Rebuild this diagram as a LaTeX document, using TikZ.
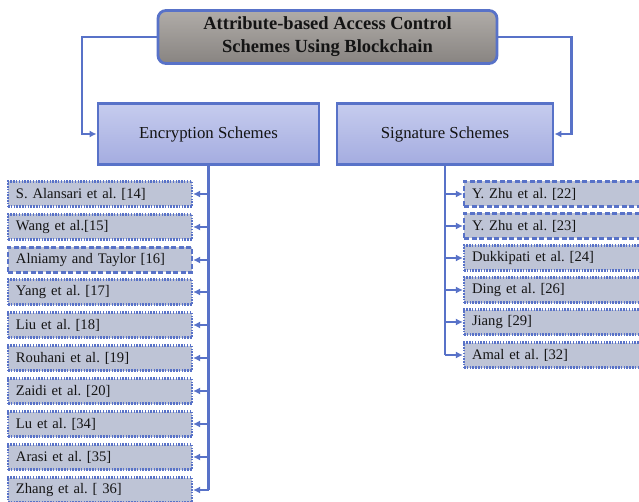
\documentclass[tikz,border=0pt]{standalone}
\usepackage{fontspec}
\setmainfont{Liberation Serif}
\usetikzlibrary{arrows.meta}
\definecolor{bordblue}{RGB}{88,114,200}
\definecolor{childfill}{RGB}{190,196,214}
\definecolor{txt}{RGB}{20,20,20}
\begin{document}
\frenchspacing
\begin{tikzpicture}[x=1pt,y=-1pt,
  titlebox/.style={draw=bordblue,line width=2.8pt,rounded corners=8pt,
    top color={rgb,255:red,176;green,172;blue,168},bottom color={rgb,255:red,136;green,132;blue,129},
    minimum width=339pt,minimum height=53pt,align=center,text=txt,
    font=\fontsize{18.5}{23}\selectfont\bfseries},
  catbox/.style={draw=bordblue,line width=2.8pt,
    top color={rgb,255:red,198;green,204;blue,238},bottom color={rgb,255:red,164;green,172;blue,224},
    minimum height=61pt,text=txt,font=\fontsize{16.8}{20}\selectfont},
  child/.style={draw=bordblue,line width=2.2pt,fill=childfill,text=txt,
    minimum height=25pt,text width=168pt,inner xsep=8pt,inner ysep=0pt,align=left,
    font=\fontsize{14.6}{17}\selectfont},
  dotb/.style={dash pattern=on 1.5pt off 1.3pt},
  dashb/.style={dash pattern=on 5pt off 2.5pt},
  link/.style={draw=bordblue,line width=2.2pt},
  conn/.style={draw=bordblue,line width=2.2pt,-{Latex[length=7pt,width=7pt]}}]
\useasboundingbox (0,0) rectangle (639,502);
\clip (0,0) rectangle (639,502);
\node[titlebox] (top) at (327.5,37) {Attribute-based Access Control\\Schemes Using Blockchain};
\node[catbox,minimum width=221pt] (enc) at (208.5,134) {Encryption Schemes};
\node[catbox,minimum width=216pt] (sig) at (445,134) {Signature Schemes};
\draw[conn] (top.west) -- ++(-75,0) |- (enc.west);
\draw[conn] (top.east) -- ++(73,0) |- (sig.east);
% encryption children
\node[child,dotb]  (e1)  at (100,194) {S. Alansari et al. [14]};
\node[child,dotb]  (e2)  at (100,227) {Wang et al.[15]};
\node[child,dashb] (e3)  at (100,260) {Alniamy and Taylor [16]};
\node[child,dotb]  (e4)  at (100,292) {Yang et al. [17]};
\node[child,dotb]  (e5)  at (100,325) {Liu et al. [18]};
\node[child,dotb]  (e6)  at (100,358) {Rouhani et al. [19]};
\node[child,dotb]  (e7)  at (100,391) {Zaidi et al. [20]};
\node[child,dotb]  (e8)  at (100,424) {Lu et al. [34]};
\node[child,dotb]  (e9)  at (100,457) {Arasi et al. [35]};
\node[child,dotb]  (e10) at (100,490) {Zhang et al. [ 36]};
\draw[link] (enc.south) -- (enc.south |- e10.east);
\foreach \i in {1,...,10}{\draw[conn] (enc.south |- e\i.east) -- (e\i.east);}
% signature children
\node[child,dashb] (s1) at (556,194) {Y. Zhu et al. [22]};
\node[child,dashb] (s2) at (556,226) {Y. Zhu et al. [23]};
\node[child,dotb]  (s3) at (556,258) {Dukkipati et al. [24]};
\node[child,dotb]  (s4) at (556,290) {Ding et al. [26]};
\node[child,dotb]  (s5) at (556,322) {Jiang [29]};
\node[child,dotb]  (s6) at (556,355) {Amal et al. [32]};
\draw[link] (sig.south) -- (sig.south |- s6.west);
\foreach \i in {1,...,6}{\draw[conn] (sig.south |- s\i.west) -- (s\i.west);}
\end{tikzpicture}
\end{document}
